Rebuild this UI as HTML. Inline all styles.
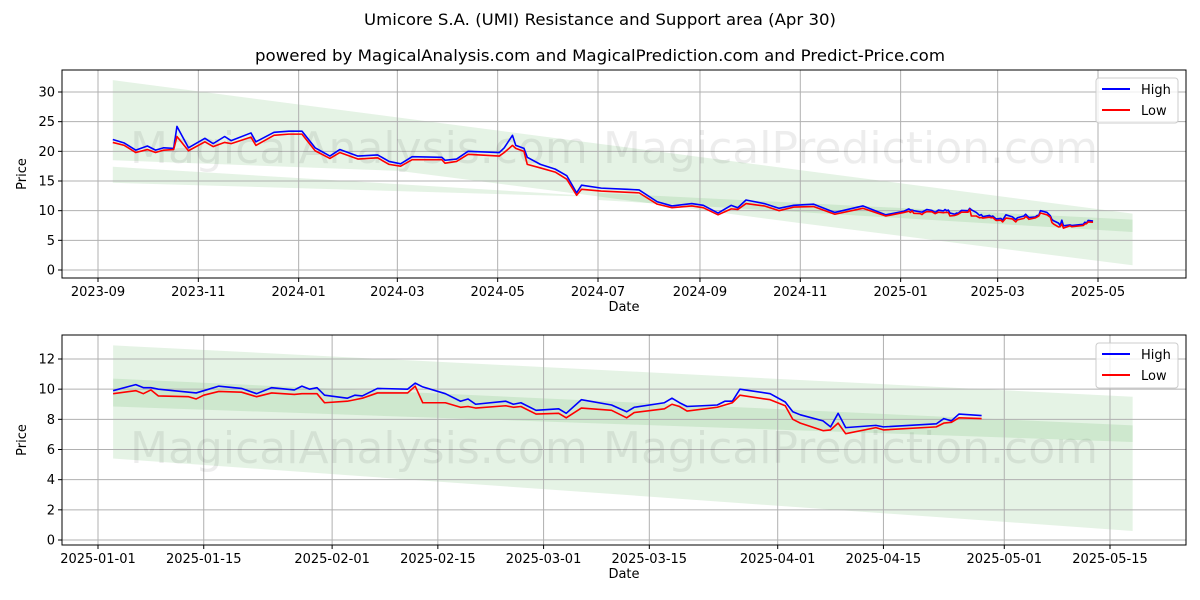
<!DOCTYPE html>
<html><head><meta charset="utf-8"><style>
body{margin:0;background:#fff;}
svg{display:block;font-family:"DejaVu Sans","Liberation Sans",sans-serif;}
</style></head><body>
<svg id="c" width="1200" height="600" viewBox="0 0 1200 600">
<text x="600" y="25" text-anchor="middle" font-size="16" textLength="472" lengthAdjust="spacingAndGlyphs">Umicore S.A. (UMI) Resistance and Support area (Apr 30)</text>
<text x="600" y="61" text-anchor="middle" font-size="16" textLength="690" lengthAdjust="spacingAndGlyphs">powered by MagicalAnalysis.com and MagicalPrediction.com and Predict-Price.com</text>
</svg>
<script>
const dates=["2023-09-10","2023-09-17","2023-09-24","2023-10-01","2023-10-06","2023-10-11","2023-10-17","2023-10-19","2023-10-26","2023-11-05","2023-11-10","2023-11-17","2023-11-21","2023-12-03","2023-12-06","2023-12-17","2023-12-26","2024-01-03","2024-01-11","2024-01-20","2024-01-26","2024-02-06","2024-02-18","2024-02-25","2024-03-03","2024-03-10","2024-03-28","2024-03-30","2024-04-06","2024-04-13","2024-05-02","2024-05-05","2024-05-10","2024-05-12","2024-05-17","2024-05-19","2024-05-27","2024-06-05","2024-06-12","2024-06-18","2024-06-21","2024-07-03","2024-07-19","2024-07-26","2024-08-06","2024-08-15","2024-08-27","2024-09-03","2024-09-12","2024-09-20","2024-09-24","2024-09-29","2024-10-10","2024-10-19","2024-10-28","2024-11-09","2024-11-22","2024-12-09","2024-12-23",
"2025-01-03","2025-01-06","2025-01-07","2025-01-08","2025-01-09","2025-01-13","2025-01-14","2025-01-15","2025-01-17","2025-01-20","2025-01-22","2025-01-24","2025-01-27","2025-01-28","2025-01-29","2025-01-30","2025-01-31","2025-02-03","2025-02-04","2025-02-05","2025-02-07","2025-02-11","2025-02-12","2025-02-13","2025-02-16","2025-02-18","2025-02-19","2025-02-20","2025-02-24","2025-02-25","2025-02-26","2025-02-28","2025-03-03","2025-03-04","2025-03-06","2025-03-10","2025-03-12","2025-03-13","2025-03-17","2025-03-18","2025-03-19","2025-03-20","2025-03-24","2025-03-25","2025-03-26","2025-03-27","2025-03-31","2025-04-02","2025-04-03","2025-04-04","2025-04-07","2025-04-08","2025-04-09","2025-04-10","2025-04-14","2025-04-15","2025-04-22","2025-04-23","2025-04-24","2025-04-25","2025-04-28"];
const high=[22.0,21.4,20.2,20.9,20.2,20.6,20.5,24.2,20.6,22.2,21.3,22.5,21.8,23.1,21.6,23.2,23.4,23.4,20.6,19.2,20.3,19.2,19.4,18.3,17.9,19.1,19.0,18.5,18.7,20.0,19.8,20.6,22.7,21.0,20.5,19.0,17.8,17.0,15.9,13.0,14.3,13.8,13.6,13.5,11.5,10.8,11.2,10.9,9.6,10.9,10.5,11.8,11.2,10.4,10.9,11.1,9.7,10.8,9.3,
9.9,10.3,10.1,10.1,10.0,9.8,9.75,9.9,10.2,10.05,9.7,10.1,9.95,10.2,10.0,10.1,9.6,9.4,9.6,9.55,10.05,10.0,10.4,10.15,9.7,9.2,9.35,9.0,9.2,9.0,9.1,8.6,8.7,8.4,9.3,8.95,8.5,8.8,9.1,9.4,9.1,8.85,8.95,9.2,9.2,10.0,9.7,9.15,8.5,8.3,7.9,7.5,8.4,7.45,7.6,7.5,7.7,8.05,7.9,8.35,8.25];
const low=[21.5,21.0,19.8,20.3,19.8,20.2,20.3,22.5,20.1,21.6,20.8,21.5,21.3,22.4,21.0,22.7,22.9,22.9,20.1,18.8,19.8,18.7,18.9,17.8,17.5,18.6,18.6,18.0,18.3,19.5,19.2,19.8,21.0,20.5,20.0,17.8,17.2,16.5,15.3,12.6,13.6,13.3,13.1,13.0,11.1,10.5,10.8,10.5,9.3,10.3,10.2,11.2,10.8,10.0,10.6,10.7,9.4,10.4,9.1,
9.7,9.9,9.7,9.95,9.55,9.5,9.35,9.6,9.85,9.8,9.5,9.75,9.65,9.7,9.7,9.7,9.1,9.2,9.3,9.4,9.75,9.75,10.2,9.1,9.1,8.8,8.85,8.75,8.9,8.8,8.85,8.35,8.4,8.1,8.75,8.6,8.1,8.45,8.7,9.0,8.85,8.55,8.8,8.95,9.1,9.6,9.3,8.9,8.0,7.75,7.25,7.3,7.75,7.05,7.45,7.3,7.5,7.75,7.8,8.1,8.05];
// band outlines: upper edge points then lower edge points ([date,value])
const topBandMainUpper=[["2023-09-10",32],["2025-05-22",9.5]];
const topBandMainLower=[["2023-09-10",18.5],["2024-03-02",16.7],["2024-07-01",12.4],["2024-11-01",7.9],["2025-05-22",0.8]];
const topBandWedgeUpper=[["2023-09-10",17.4],["2024-06-20",12.6]];
const topBandWedgeLower=[["2023-09-10",14.7],["2024-06-20",12.4]];
const topBandInnerUpper=[["2024-07-01",13.0],["2025-05-22",8.5]];
const topBandInnerLower=[["2024-07-01",11.8],["2025-05-22",6.4]];
const botBandOuterUpper=[["2025-01-03",12.9],["2025-05-18",9.5]];
const botBandOuterLower=[["2025-01-03",5.4],["2025-05-18",0.6]];
const botBandInnerUpper=[["2025-01-03",10.7],["2025-05-18",7.6]];
const botBandInnerLower=[["2025-01-03",8.85],["2025-05-18",6.5]];
const topYTicks=[0,5,10,15,20,25,30];
const topXTicks=["2023-09","2023-11","2024-01","2024-03","2024-05","2024-07","2024-09","2024-11","2025-01","2025-03","2025-05"];
const botYTicks=[0,2,4,6,8,10,12];
const botXTicks=["2025-01-01","2025-01-15","2025-02-01","2025-02-15","2025-03-01","2025-03-15","2025-04-01","2025-04-15","2025-05-01","2025-05-15"];

const NS="http://www.w3.org/2000/svg",svg=document.getElementById('c');
function mk(t,a,p){const e=document.createElementNS(NS,t);for(const k in a)e.setAttribute(k,a[k]);(p||svg).appendChild(e);return e;}
const T=s=>Date.parse(s.length==7?s+"-01":s)/864e5;
function panel(cfg){
  const {L,R,Tp,B,x0,x1,y0,y1}=cfg;
  const X=d=>cfg.xl+(T(d)-T(x0))/(T(x1)-T(x0))*(cfg.xr-cfg.xl);
  const Y=v=>cfg.yb-(v-y0)/(y1-y0)*(cfg.yb-cfg.yt);
  const g=mk('g',{});
  
  
  cfg.bands.forEach(b=>{
    const pts=b[0].concat(b[1].slice().reverse()).map(p=>X(p[0])+','+Y(p[1])).join(' ');
    const p=mk('polygon',{points:pts,fill:'#2ca02c','fill-opacity':0.12},g);
    
    
  });
  cfg.yt_.forEach(v=>{
    const l=mk('line',{x1:L,x2:R,y1:Y(v),y2:Y(v),stroke:'#b0b0b0','stroke-width':1},g);
    
    
    mk('line',{x1:L-4,x2:L,y1:Y(v),y2:Y(v),stroke:'#000'},g);
    const t=mk('text',{x:L-7,y:Y(v)+4.5,'text-anchor':'end','font-size':13},g);t.textContent=v;
    
    
  });
  cfg.xt_.forEach(d=>{
    const x=X(d);
    const l=mk('line',{x1:x,x2:x,y1:Tp,y2:B,stroke:'#b0b0b0','stroke-width':1},g);
    
    
    mk('line',{x1:x,x2:x,y1:B,y2:B+4,stroke:'#000'},g);
    const t=mk('text',{x:x,y:B+18,'text-anchor':'middle','font-size':13},g);t.textContent=d;
    
    
  });
  [[cfg.wy,130,"MagicalAnalysis.com"],[cfg.wy,603,"MagicalPrediction.com"]].forEach(w=>{
    const t=mk('text',{x:w[1],y:w[0],'font-size':44,fill:'#000','fill-opacity':0.07},g);t.textContent=w[2];
    
    
  });
  const idx=dates.map((d,i)=>i).filter(i=>T(dates[i])>=T(cfg.from));
  [[high,'#0000ff','high-line'],[low,'#ff0000','low-line']].forEach(s=>{
    const p=mk('polyline',{points:idx.map(i=>X(dates[i])+','+Y(s[0][i])).join(' '),fill:'none',stroke:s[1],'stroke-width':1.6,'stroke-linejoin':'round'},g);
    
    
  });
  const f=mk('rect',{x:L,y:Tp,width:R-L,height:B-Tp,fill:'none',stroke:'#000','stroke-width':1},g);
  
  
  const xl=mk('text',{x:(L+R)/2,y:B+33,'text-anchor':'middle','font-size':13},g);xl.textContent='Date';
  
  
  const yl=mk('text',{x:0,y:0,'text-anchor':'middle','font-size':13,transform:`translate(26,${(Tp+B)/2}) rotate(-90)`},g);yl.textContent='Price';
  
  
  const lg=mk('g',{},g);
  
  
  mk('rect',{x:1096,y:Tp+8,width:82,height:45,rx:3,fill:'#fff','fill-opacity':0.8,stroke:'#ccc'},lg);
  [['High','#0000ff',0],['Low','#ff0000',21]].forEach(e=>{
    const y=Tp+19+e[2];
    const ln=mk('line',{x1:1102,x2:1130,y1:y,y2:y,stroke:e[1],'stroke-width':2},lg);
    
    
    const t=mk('text',{x:1141,y:y+5,'font-size':13},lg);t.textContent=e[0];
    
    
  });
}
panel({name:'top-chart',L:62,R:1186,Tp:70,B:278,x0:"2023-09-01",x1:"2025-05-01",xl:98,xr:1098,y0:0,y1:30,yb:270,yt:92,
  bands:[[topBandMainUpper,topBandMainLower],[topBandWedgeUpper,topBandWedgeLower],[topBandInnerUpper,topBandInnerLower]],
  yt_:topYTicks,xt_:topXTicks,from:"2023-01-01",wy:163});
panel({name:'bottom-chart',L:62,R:1186,Tp:335,B:545,x0:"2025-01-01",x1:"2025-05-15",xl:98,xr:1110,y0:0,y1:12,yb:540,yt:359,
  bands:[[botBandOuterUpper,botBandOuterLower],[botBandInnerUpper,botBandInnerLower]],
  yt_:botYTicks,xt_:botXTicks,from:"2025-01-01",wy:463});
</script>
</body></html>
